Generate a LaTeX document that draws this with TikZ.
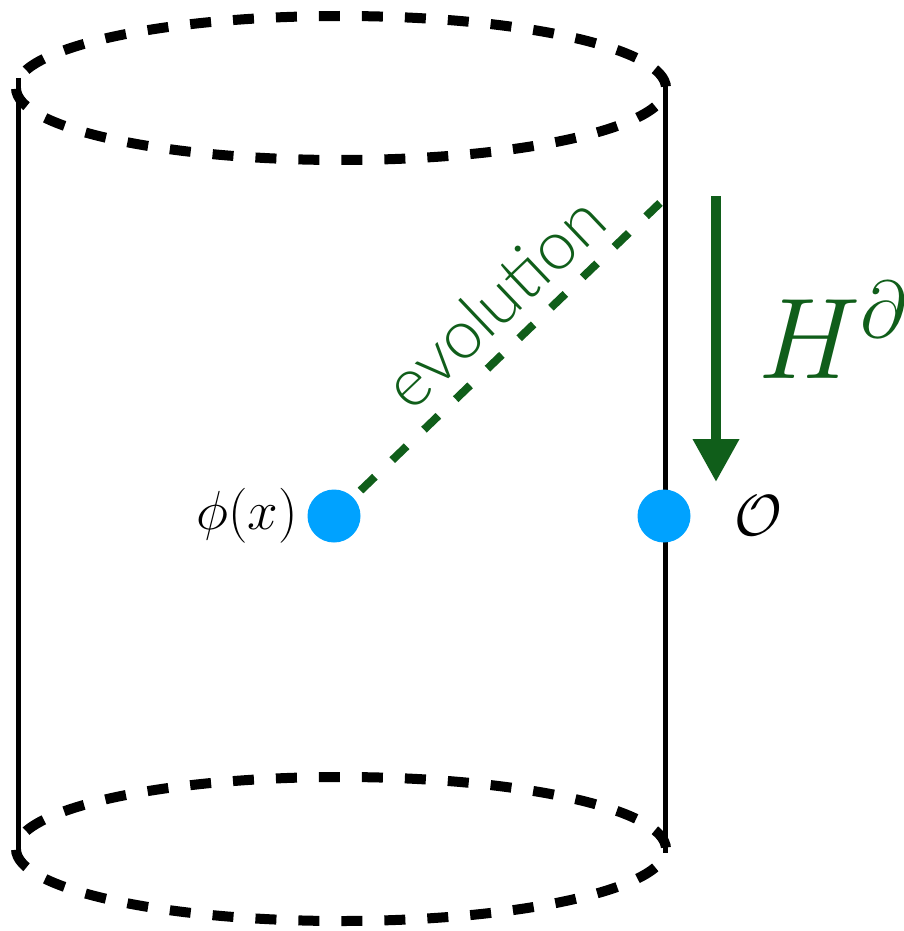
\RequirePackage{fix-cm}
\documentclass[tikz,border=0pt]{standalone}
\usepackage{fontspec}
\newfontfamily\evofont{Lato Light}
\usetikzlibrary{arrows.meta,positioning}
\definecolor{evoGreen}{RGB}{16,94,26}
\definecolor{dotBlue}{RGB}{0,162,255}

\begin{document}
\begin{tikzpicture}[x=1pt, y=-1pt,
    rim/.style={line width=10pt, dash pattern=on 21pt off 22pt, dash phase=21pt},
    wall/.style={line width=5pt},
    dot/.style={circle, fill=dotBlue, minimum size=53pt, inner sep=0pt},
    >={Triangle[width=44pt,length=43pt]}]
    \useasboundingbox (0,0) rectangle (903,931);
    % Cylinder
    \draw[wall] (18,78) -- (18,853);
    \draw[wall] (665,78) -- (665,853);
    \draw[rim] (341,88) ellipse (325 and 72);
    \draw[rim] (341,849) ellipse (325 and 72);
    % Points
    \node[dot] (phi) at (334,516) {};
    \node[dot] (op) at (664,516) {};
    \node[left=6pt of phi, font=\fontsize{55}{60}\selectfont] (philab) {$\phi(x)$};
    \node[right=40pt of op, font=\fontsize{58}{62}\selectfont] (oplab) {$\mathcal{O}$};
    % Evolution
    \coordinate (evoend) at (660,203);
    \draw[evoGreen, line width=8pt, dash pattern=on 20pt off 24pt, dash phase=34pt] (phi) -- (evoend);
    \node[evoGreen, rotate=43.5, font=\evofont\fontsize{68}{72}\selectfont] (evolab) at (494,302) {evolution};
    % Hamiltonian
    \coordinate (hamtop) at (716,196);
    \coordinate (hambot) at (716,482);
    \draw[->, evoGreen, line width=10pt] (hamtop) -- (hambot);
    \node[evoGreen, font=\fontsize{115}{120}\selectfont] (hamlab) at (833,330) {$H^{\partial}$};
\end{tikzpicture}
\end{document}
